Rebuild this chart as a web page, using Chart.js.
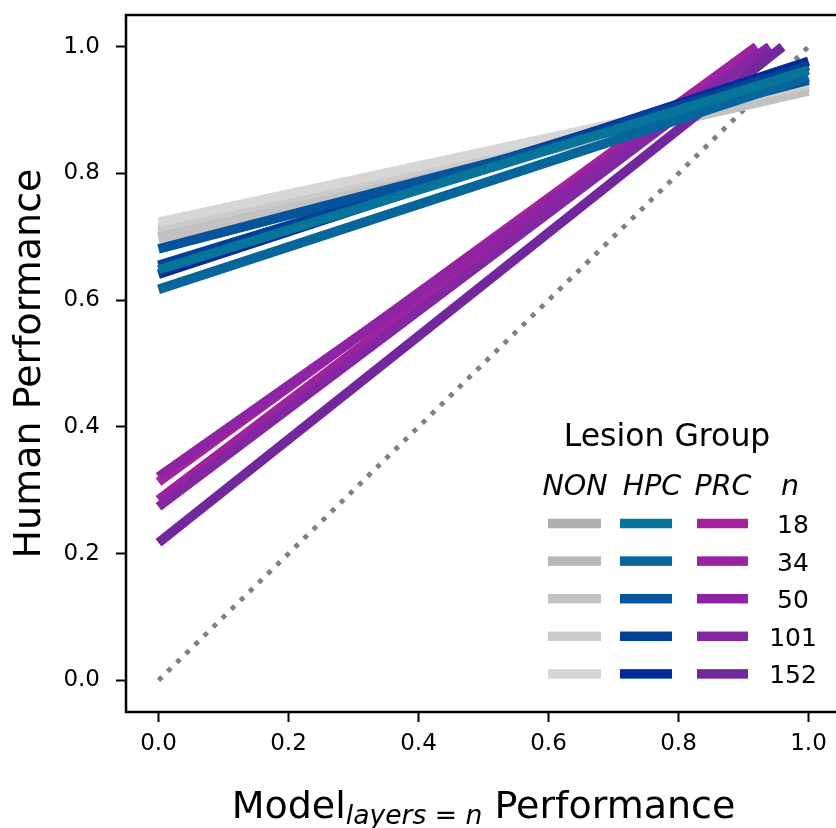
<!DOCTYPE html>
<html>
<head>
<meta charset="utf-8">
<script src="https://cdn.jsdelivr.net/npm/chart.js@4.4.1/dist/chart.umd.min.js"></script>
<style>
  html, body { margin: 0; padding: 0; background: #fff; overflow: hidden; }
  #wrap { width: 836px; height: 828px; overflow: hidden; }
  canvas { display: block; }
</style>
</head>
<body>
<div id="wrap"><canvas id="chart" width="845" height="828"></canvas></div>
<script>
// layer depths (legend rows)
const DEPTHS = ['18', '34', '50', '101', '152'];
const X_TICKS = [0, 0.2, 0.4, 0.6, 0.8, 1.0];
const Y_TICKS = [0, 0.2, 0.4, 0.6, 0.8, 1.0];

// fitted lines: value at model = 0 and at the end point
const NON_START = [0.700, 0.708, 0.697, 0.714, 0.723];
const NON_END = [0.935, 0.938, 0.930, 0.941, 0.945];
const NON_END_X = [1, 1, 1, 1, 1];

const HPC_START = [0.648, 0.617, 0.681, 0.655, 0.641];
const HPC_END = [0.963, 0.952, 0.947, 0.970, 0.977];
const HPC_END_X = [1, 1, 1, 1, 1];

const PRC_START = [0.313, 0.285, 0.321, 0.274, 0.217];
const PRC_END = [1.0, 1.0, 1.0, 1.0, 1.0];
const PRC_END_X = [0.92, 0.92, 0.94, 0.94, 0.96];

const DIAG_X = [0, 1];
const DIAG_Y = [0, 1];

const NON_COLORS = ['#afafaf', '#b8b8b8', '#c2c2c2', '#cbcbcb', '#d6d6d6'];
const HPC_COLORS = ['#07749a', '#06659a', '#05539a', '#043f98', '#032b96'];
const PRC_COLORS = ['#a6229a', '#9c22a0', '#8e24a3', '#8226a1', '#72289c'];

const FONT = "'DejaVu Sans', sans-serif";
const LINE_W = 9.5;

function fitLine(label, color, y0, x1, y1) {
  return {
    label,
    data: [{ x: 0, y: y0 }, { x: x1, y: y1 }],
    borderColor: color,
    backgroundColor: color,
    borderWidth: LINE_W,
    borderCapStyle: 'butt',
    pointRadius: 0,
    fill: false,
  };
}

// bottom -> top
const stack = [];
stack.push({
  label: 'chance',
  data: DIAG_X.map((x, i) => ({ x, y: DIAG_Y[i] })),
  borderColor: '#808080',
  borderWidth: 4.8,
  borderDash: [4.8, 7.9],
  borderCapStyle: 'butt',
  pointRadius: 0,
  fill: false,
});
DEPTHS.forEach((d, i) => stack.push(fitLine('NON ' + d, NON_COLORS[i], NON_START[i], NON_END_X[i], NON_END[i])));
DEPTHS.forEach((d, i) => stack.push(fitLine('PRC ' + d, PRC_COLORS[i], PRC_START[i], PRC_END_X[i], PRC_END[i])));
for (let i = DEPTHS.length - 1; i >= 0; i--) {
  stack.push(fitLine('HPC ' + DEPTHS[i], HPC_COLORS[i], HPC_START[i], HPC_END_X[i], HPC_END[i]));
}
stack.forEach((ds, i) => { ds.order = -i; });

const frameBox = {
  id: 'frameBox',
  afterDraw(chart) {
    const { ctx, chartArea: a } = chart;
    ctx.save();
    ctx.strokeStyle = '#000';
    ctx.lineWidth = 2.5;
    ctx.strokeRect(a.left, a.top, a.right - a.left, a.bottom - a.top);
    ctx.restore();
  }
};

// x label with mathtext-like subscript
const xLabel = {
  id: 'xLabel',
  afterDraw(chart) {
    const { ctx, chartArea: a } = chart;
    const big = '38px ' + FONT;
    const sub = '26.6px ' + FONT;
    const subIt = 'italic 26.6px ' + FONT;
    const parts = [
      { t: 'Model', f: big, dy: 0 },
      { t: 'layers', f: subIt, dy: 6 },
      { t: ' = ', f: sub, dy: 6 },
      { t: 'n', f: subIt, dy: 6 },
      { t: ' Performance', f: big, dy: 0 },
    ];
    ctx.save();
    ctx.fillStyle = '#000';
    ctx.textBaseline = 'alphabetic';
    ctx.textAlign = 'left';
    let total = 0;
    parts.forEach(p => { ctx.font = p.f; p.w = ctx.measureText(p.t).width; total += p.w; });
    let x = (a.left + a.right) / 2 - total / 2;
    const base = 818;
    parts.forEach(p => { ctx.font = p.f; ctx.fillText(p.t, x, base + p.dy); x += p.w; });
    ctx.restore();
  }
};

const lesionLegend = {
  id: 'lesionLegend',
  afterDraw(chart) {
    const { ctx } = chart;
    ctx.save();
    ctx.fillStyle = '#000';
    ctx.textAlign = 'center';
    ctx.textBaseline = 'alphabetic';
    ctx.font = '31.5px ' + FONT;
    ctx.fillText('Lesion Group', 667, 446);
    ctx.font = 'italic 28.5px ' + FONT;
    const heads = ['NON', 'HPC', 'PRC', 'n'];
    const headX = [575, 652, 723, 790];
    heads.forEach((h, i) => ctx.fillText(h, headX[i], 495));
    const cols = [[548, 601, NON_COLORS], [620, 672, HPC_COLORS], [697, 748, PRC_COLORS]];
    ctx.font = '25px ' + FONT;
    DEPTHS.forEach((d, r) => {
      const y = 523.5 + r * 37.6;
      cols.forEach(([x0, x1, colors]) => {
        ctx.fillStyle = colors[r];
        ctx.fillRect(x0, y - LINE_W / 2, x1 - x0, LINE_W);
      });
      ctx.fillStyle = '#000';
      ctx.fillText(d, 793, y + 9.5);
    });
    ctx.restore();
  }
};

const tickStyle = {
  color: '#000',
  font: { family: FONT, size: 23 },
};

new Chart(document.getElementById('chart'), {
  type: 'line',
  data: { datasets: stack },
  options: {
    responsive: false,
    animation: false,
    devicePixelRatio: 1,
    layout: { padding: { left: 0, top: 15, right: 4, bottom: 0 } },
    plugins: { legend: { display: false }, tooltip: { enabled: false } },
    scales: {
      x: {
        type: 'linear',
        min: -0.05,
        max: 1.05,
        afterBuildTicks: (s) => { s.ticks = X_TICKS.map(v => ({ value: v })); },
        afterFit: (s) => { s.height = 116; s.paddingLeft = 0; s.paddingRight = 0; },
        ticks: { ...tickStyle, padding: 8, maxRotation: 0, callback: (v) => v.toFixed(1) },
        grid: { drawOnChartArea: false, tickLength: 10, tickWidth: 2, tickColor: '#000' },
        border: { display: false },
      },
      y: {
        min: -0.05,
        max: 1.05,
        afterBuildTicks: (s) => { s.ticks = Y_TICKS.map(v => ({ value: v })); },
        afterFit: (s) => { s.width = 126; s.paddingTop = 0; s.paddingBottom = 0; },
        ticks: { ...tickStyle, padding: 16, callback: (v) => v.toFixed(1) },
        grid: { drawOnChartArea: false, tickLength: 10, tickWidth: 2, tickColor: '#000' },
        border: { display: false },
        title: {
          display: true,
          text: 'Human Performance',
          color: '#000',
          font: { family: FONT, size: 38 },
          padding: { top: 7, bottom: 0 },
        },
      },
    },
  },
  plugins: [frameBox, xLabel, lesionLegend],
});
</script>
</body>
</html>
